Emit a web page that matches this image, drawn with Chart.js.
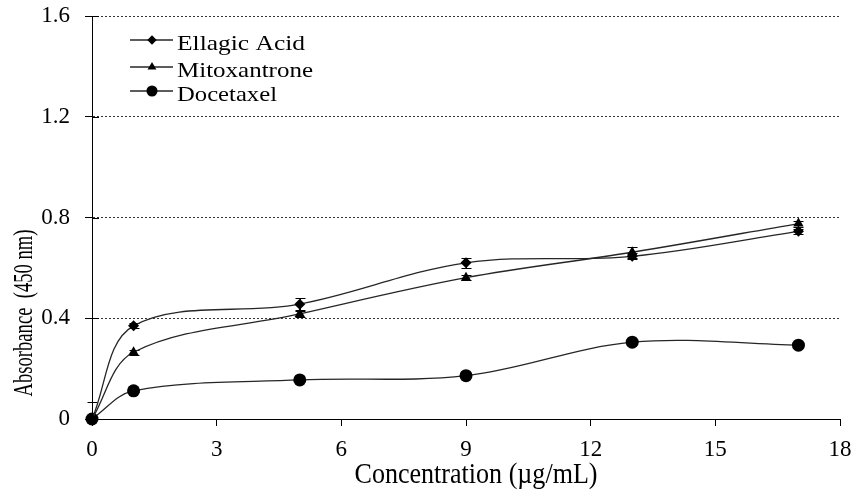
<!DOCTYPE html>
<html>
<head>
<meta charset="utf-8">
<script src="https://cdn.jsdelivr.net/npm/chart.js@4/dist/chart.umd.min.js"></script>
<style>
  html, body { margin: 0; padding: 0; background: #fff; }
  #contenedor { width: 854px; height: 493px; }
</style>
</head>
<body>
<div id="contenedor"><canvas id="grafico" width="854" height="493"></canvas></div>
<script>
/**
 * Datos de absorbancia por concentracion
 */
const concentraciones = [0, 1, 5, 9, 13, 17];
const ellagicAcid = [0, 0.37, 0.456, 0.62, 0.646, 0.745];
const mitoxantrone = [0, 0.265, 0.417, 0.561, 0.662, 0.776];
const docetaxel = [0, 0.112, 0.155, 0.172, 0.305, 0.293];

// desviaciones (barras de error)
const errEllagic = [0, 0.01, 0.024, 0.02, 0.012, 0.01];
const errMitox = [0.068, 0.01, 0.012, 0.01, 0.022, 0.012];
const errDocetaxel = [0, 0.005, 0.005, 0.005, 0.005, 0.005];

const nombres = ["Ellagic Acid", "Mitoxantrone", "Docetaxel"];
const ticksX = [0, 3, 6, 9, 12, 15, 18];
const ticksY = [0, 0.4, 0.8, 1.2, 1.6];

const tituloX = "Concentration (\u00b5g/mL)";
const tituloY = "Absorbance  (450 nm)";

const FUENTE = "'Liberation Serif', 'Times New Roman', serif";
const NEGRO = "#000";
const LINEA = "#262626";

function puntos(valores, errores) {
  return concentraciones.map((x, i) => ({ x: x, y: valores[i], err: errores[i] }));
}

// escribe un texto ajustado a un ancho dado (la fuente del original es mas ancha)
function textoAncho(ctx, texto, tam, ancho, x, y, alinear) {
  ctx.font = tam + "px " + FUENTE;
  const medida = ctx.measureText(texto).width;
  const k = ancho / medida;
  ctx.save();
  ctx.translate(x, y);
  ctx.scale(k, 1);
  ctx.textAlign = alinear;
  ctx.textBaseline = "alphabetic";
  ctx.fillStyle = NEGRO;
  ctx.fillText(texto, 0, 0);
  ctx.restore();
}

/*Barras de error, se dibujan antes que los marcadores*/
const barrasError = {
  id: "barrasError",
  beforeDatasetsDraw(chart) {
    const ctx = chart.ctx;
    const escX = chart.scales.x;
    const escY = chart.scales.y;
    ctx.save();
    ctx.strokeStyle = NEGRO;
    ctx.lineWidth = 1;
    chart.data.datasets.forEach((ds) => {
      ds.data.forEach((p) => {
        if (!p.err) return;
        const px = Math.round(escX.getPixelForValue(p.x)) + 0.5;
        const arriba = Math.round(escY.getPixelForValue(p.y + p.err)) + 0.5;
        const abajo = Math.round(escY.getPixelForValue(Math.max(0, p.y - p.err))) + 0.5;
        ctx.beginPath();
        ctx.moveTo(px, arriba);
        ctx.lineTo(px, abajo);
        ctx.moveTo(px - 5, arriba);
        ctx.lineTo(px + 5, arriba);
        ctx.moveTo(px - 5, abajo);
        ctx.lineTo(px + 5, abajo);
        ctx.stroke();
      });
    });
    ctx.restore();
  },
};

/*Leyenda dentro del area del grafico y titulos de los ejes*/
const textos = {
  id: "textos",
  afterDraw(chart) {
    const ctx = chart.ctx;
    const escY = chart.scales.y;
    ctx.save();

    // marcas del eje Y hacia adentro
    ctx.strokeStyle = NEGRO;
    ctx.lineWidth = 1;
    ctx.beginPath();
    ticksY.forEach((v) => {
      const py = Math.round(escY.getPixelForValue(v)) + 0.5;
      ctx.moveTo(escY.right, py);
      ctx.lineTo(escY.right + 7, py);
    });
    ctx.stroke();

    // leyenda
    const filas = [40, 67, 91];
    const anchos = [128, 136, 100];
    chart.data.datasets.forEach((ds, i) => {
      const y = filas[i];
      ctx.strokeStyle = LINEA;
      ctx.lineWidth = 1.3;
      ctx.beginPath();
      ctx.moveTo(130, y);
      ctx.lineTo(173, y);
      ctx.stroke();
      ctx.fillStyle = NEGRO;
      ctx.strokeStyle = NEGRO;
      Chart.helpers.drawPoint(ctx, {
        pointStyle: ds.pointStyle,
        radius: ds.pointRadius * 0.85,
        borderWidth: 0,
        rotation: 0,
      }, 152, y);
      textoAncho(ctx, ds.label, 22, anchos[i], 177, y + 10, "left");
    });

    // titulo eje X
    textoAncho(ctx, tituloX, 29, 243, 476, 483, "center");

    // titulo eje Y
    ctx.save();
    ctx.translate(32, 313);
    ctx.rotate(-Math.PI / 2);
    textoAncho(ctx, tituloY, 28, 167, 0, 0, "center");
    ctx.restore();

    ctx.restore();
  },
};

function serie(nombre, datos, estilo, radio) {
  return {
    label: nombre,
    data: datos,
    borderColor: LINEA,
    borderWidth: 1.3,
    backgroundColor: NEGRO,
    pointBackgroundColor: NEGRO,
    pointBorderColor: NEGRO,
    pointBorderWidth: 0,
    pointStyle: estilo,
    pointRadius: radio,
    pointHoverRadius: radio,
    tension: 0.35,
    fill: false,
    clip: false,
  };
}

const ctx = document.getElementById("grafico");

new Chart(ctx, {
  type: "line",
  data: {
    datasets: [
      serie(nombres[0], puntos(ellagicAcid, errEllagic), "rectRot", 5.5),
      serie(nombres[1], puntos(mitoxantrone, errMitox), "triangle", 6),
      serie(nombres[2], puntos(docetaxel, errDocetaxel), "circle", 6.5),
    ],
  },
  options: {
    responsive: false,
    animation: false,
    events: [],
    layout: { padding: { left: 0, right: 14, top: 16, bottom: 0 } },
    plugins: {
      legend: { display: false },
      tooltip: { enabled: false },
    },
    scales: {
      x: {
        type: "linear",
        min: 0,
        max: 18,
        afterBuildTicks: (escala) => {
          escala.ticks = ticksX.map((v) => ({ value: v }));
        },
        afterFit: (escala) => {
          escala.height = 74;
          escala.paddingLeft = 0;
          escala.paddingRight = 0;
        },
        ticks: {
          color: NEGRO,
          font: { family: FUENTE, size: 23 },
          padding: 10,
          maxRotation: 0,
        },
        grid: {
          drawOnChartArea: false,
          drawTicks: true,
          tickLength: 7,
          tickColor: NEGRO,
          tickWidth: 1,
        },
        border: { display: true, color: NEGRO, width: 1 },
      },
      y: {
        type: "linear",
        min: 0,
        max: 1.6,
        afterBuildTicks: (escala) => {
          escala.ticks = ticksY.map((v) => ({ value: v }));
        },
        afterFit: (escala) => {
          escala.width = 92;
          escala.paddingTop = 0;
          escala.paddingBottom = 0;
        },
        ticks: {
          color: NEGRO,
          font: { family: FUENTE, size: 23 },
          padding: 15,
          callback: (v) => String(v),
        },
        grid: {
          color: "#333",
          lineWidth: 1,
          drawTicks: true,
          tickLength: 7,
          tickColor: NEGRO,
          tickBorderDash: [],
        },
        border: { display: true, color: NEGRO, width: 1, dash: [2, 2] },
      },
    },
  },
  plugins: [barrasError, textos],
});
</script>
</body>
</html>
